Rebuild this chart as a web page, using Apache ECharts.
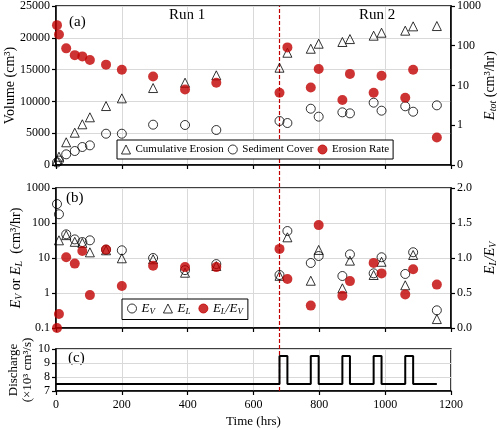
<!DOCTYPE html>
<html>
<head>
<meta charset="utf-8">
<script src="https://cdn.jsdelivr.net/npm/echarts@6/dist/echarts.min.js"></script>
<style>html,body{margin:0;padding:0;background:#fff}#c{width:500px;height:430px}</style>
</head>
<body>
<div id="c"></div>
<script>
// ---- data ----
const times = [3, 9, 31, 57, 80, 103, 152, 200, 295, 392, 487, 679, 703, 774, 798, 870, 893, 965, 989, 1061, 1085, 1157];
const cumErosion = [700, 1300, 3570, 5080, 6400, 7500, 9270, 10480, 12100, 12940, 14100, 15300, 17650, 18280, 19070, 19340, 19800, 20330, 20800, 21120, 21800, 21850];
const sedimentCover = [400, 700, 1680, 2200, 2830, 3090, 4920, 4920, 6340, 6290, 5500, 6920, 6600, 8850, 7600, 8280, 8120, 9800, 8540, 9230, 8380, 9380];
const erosionRate = [330, 191, 86, 58, 54, 44, 33.5, 25, 16.8, 7.9, 11.7, 6.6, 91, 8.9, 26, 4.3, 19.6, 6.6, 17.5, 4.9, 25, 0.49];
const EV = [348, 178, 47.5, 34, 28.6, 32, 17.3, 16.6, 10, 4.5, 6.7, 3.27, 59, 7.2, 11.4, 3.06, 12.7, 3.65, 10.5, 3.5, 14.6, 0.32];
const EL = [null, 32, 45, 29, 27, 14.5, 16.6, 9.8, 9.2, 3.8, 5.9, 3.1, 39, 2.24, 17, 1.36, 8.4, 3.27, 7.8, 1.66, 12.2, 0.18];
const ratio = [0.0, 0.2, 1.01, 0.92, 1.1, 0.47, 1.12, 0.6, 0.89, 0.87, 0.87, 1.13, 0.70, 0.32, 1.47, 0.46, 0.67, 0.93, 0.78, 0.48, 0.84, 0.62];
const dischargeT = [0, 679, 679, 703, 703, 774, 774, 798, 798, 870, 870, 893, 893, 965, 965, 989, 989, 1061, 1061, 1085, 1085, 1157];
const dischargeQ = [7.5, 7.5, 9.5, 9.5, 7.5, 7.5, 9.5, 9.5, 7.5, 7.5, 9.5, 9.5, 7.5, 7.5, 9.5, 9.5, 7.5, 7.5, 9.5, 9.5, 7.5, 7.5];
const run2Start = 679;
const volumeTicks = [0, 25000, 5000];
const timeTicks = [0, 1200, 200];

// ---- helpers ----
const FF = 'Liberation Serif, Times New Roman, serif';
const RED = '#c00000';
const GRIDC = '#d9d9d9';
const pair = (xs, ys) => xs.map((x, i) => [x, ys[i]]);
const richBase = {
  n: {fontFamily: FF, fontSize: 14, color: '#000', lineHeight: 16},
  i: {fontFamily: FF, fontSize: 14, fontStyle: 'italic', color: '#000', lineHeight: 16},
  s: {fontFamily: FF, fontSize: 10, fontStyle: 'italic', color: '#000', verticalAlign: 'bottom', lineHeight: 10}
};
const richLeg = {
  i: {fontFamily: FF, fontSize: 13, fontStyle: 'italic', color: '#000', lineHeight: 16},
  s: {fontFamily: FF, fontSize: 9, fontStyle: 'italic', color: '#000', verticalAlign: 'bottom', lineHeight: 9}
};
const openStyle = {color: 'rgba(0,0,0,0)', borderColor: '#000', borderWidth: 1};
const redStyle = {color: RED, borderColor: RED, borderWidth: 0};
const plain = v => String(Math.round(v));

function xAx(grid, showLabel) {
  return {
    type: 'value', gridIndex: grid, min: timeTicks[0], max: timeTicks[1], interval: timeTicks[2],
    axisLine: {show: true, onZero: false, lineStyle: {color: '#000', width: 1.5}},
    axisTick: {show: true, length: 4, lineStyle: {color: '#000', width: 1.2}},
    axisLabel: {show: showLabel, color: '#000', fontFamily: FF, fontSize: 12, margin: 8, formatter: plain},
    splitLine: {show: true, lineStyle: {color: GRIDC, width: 1}},
    name: showLabel ? 'Time (hrs)' : '', nameLocation: 'middle', nameGap: 24, nameMoveOverlap: false,
    nameTextStyle: {color: '#000', fontFamily: FF, fontSize: 13}
  };
}
function yBase(grid, pos) {
  return {
    gridIndex: grid, position: pos,
    axisLine: {show: true, lineStyle: {color: '#000', width: 1.5}},
    axisTick: {show: true, length: 4, lineStyle: {color: '#000', width: 1.2}},
    axisLabel: {color: '#000', fontFamily: FF, fontSize: 12, margin: 6, formatter: plain},
    nameLocation: 'middle', nameRotate: 90, nameMoveOverlap: false,
    nameTextStyle: {color: '#000', fontFamily: FF, fontSize: 14, rich: richBase}
  };
}

const yAxes = [
  Object.assign(yBase(0, 'left'), {
    type: 'value', min: volumeTicks[0], max: volumeTicks[1], interval: volumeTicks[2],
    splitLine: {show: true, lineStyle: {color: GRIDC}},
    name: 'Volume (cm³)', nameGap: 39
  }),
  Object.assign(yBase(0, 'right'), {
    type: 'log', logBase: 10, min: 0.1, max: 1000,
    splitLine: {show: false},
    axisLabel: {color: '#000', fontFamily: FF, fontSize: 12, margin: 6,
      formatter: v => v < 0.5 ? '0' : String(Math.round(v))},
    name: '{i|E}{s|tot}{n| (cm³/hr)}', nameGap: 31
  }),
  Object.assign(yBase(1, 'left'), {
    type: 'log', logBase: 10, min: 0.1, max: 1000,
    splitLine: {show: true, lineStyle: {color: GRIDC}},
    axisLabel: {color: '#000', fontFamily: FF, fontSize: 12, margin: 6,
      formatter: v => v < 0.5 ? '0.1' : String(Math.round(v))},
    name: '{i|E}{s|V}{n| or }{i|E}{s|L}{n|  (cm³/hr)}', nameGap: 32
  }),
  Object.assign(yBase(1, 'right'), {
    type: 'value', min: 0, max: 2, interval: 0.5,
    splitLine: {show: false},
    axisLabel: {color: '#000', fontFamily: FF, fontSize: 12, margin: 6, formatter: v => v.toFixed(1)},
    name: '{i|E}{s|L}{i|/E}{s|V}', nameGap: 31
  }),
  Object.assign(yBase(2, 'left'), {
    type: 'value', min: 7, max: 10, interval: 1,
    splitLine: {show: true, lineStyle: {color: GRIDC}},
    name: 'Discharge\n(×10³ cm³/s)', nameGap: 21,
    nameTextStyle: {color: '#000', fontFamily: FF, fontSize: 13, lineHeight: 14}
  }),
  {gridIndex: 3, type: 'value', min: 0, max: 1, show: false}
];

const gridBase = {left: 56, right: 49, show: true, borderColor: '#000', borderWidth: 1.5,
  backgroundColor: 'transparent', outerBoundsMode: 'none', containLabel: false};

const option = {
  animation: false,
  backgroundColor: '#fff',
  grid: [
    Object.assign({}, gridBase, {top: 6, height: 159}),
    Object.assign({}, gridBase, {top: 188, height: 140}),
    Object.assign({}, gridBase, {top: 349, height: 42}),
    {left: 56, right: 49, top: 6, bottom: 39, show: false, outerBoundsMode: 'none', containLabel: false}
  ],
  xAxis: [xAx(0, false), xAx(1, false), xAx(2, true), {gridIndex: 3, type: 'value', min: timeTicks[0], max: timeTicks[1], show: false}],
  yAxis: yAxes,
  legend: [
    {
      left: 117, top: 140, padding: [4, 4], itemGap: 4, itemWidth: 9, itemHeight: 9,
      borderColor: '#000', borderWidth: 1, backgroundColor: '#fff', selectedMode: false,
      itemStyle: {borderWidth: 1},
      textStyle: {color: '#000', fontFamily: FF, fontSize: 11},
      data: ['Cumulative Erosion', 'Sediment Cover', 'Erosion Rate']
    },
    {
      left: 122, top: 299, padding: [3, 5], itemGap: 8, itemWidth: 9, itemHeight: 9,
      borderColor: '#000', borderWidth: 1, backgroundColor: '#fff', selectedMode: false,
      itemStyle: {borderWidth: 1},
      textStyle: {color: '#000', fontFamily: FF, fontSize: 13, rich: richLeg},
      formatter: name => ({EV: '{i|E}{s|V}', EL: '{i|E}{s|L}', ratio: '{i|E}{s|L}{i|/E}{s|V}'})[name],
      data: ['EV', 'EL', 'ratio']
    }
  ],
  graphic: [
    {type: 'text', left: 69, top: 15, style: {text: '(a)', font: '15px ' + FF, fill: '#000'}},
    {type: 'text', left: 169, top: 8, style: {text: 'Run 1', font: '15px ' + FF, fill: '#000'}},
    {type: 'text', left: 359, top: 8, style: {text: 'Run 2', font: '15px ' + FF, fill: '#000'}},
    {type: 'text', left: 66, top: 191, style: {text: '(b)', font: '15px ' + FF, fill: '#000'}},
    {type: 'text', left: 68, top: 351, style: {text: '(c)', font: '15px ' + FF, fill: '#000'}}
  ],
  series: [
    {name: 'run2', type: 'line', xAxisIndex: 3, yAxisIndex: 5, data: [[run2Start, 0], [run2Start, 1]],
      symbol: 'none', silent: true, z: 1, lineStyle: {color: RED, width: 1.2, type: [4, 2]}},
    {name: 'Cumulative Erosion', type: 'scatter', xAxisIndex: 0, yAxisIndex: 0, symbol: 'triangle', symbolSize: 9,
      itemStyle: openStyle, data: pair(times, cumErosion), clip: false, z: 3},
    {name: 'Sediment Cover', type: 'scatter', xAxisIndex: 0, yAxisIndex: 0, symbol: 'circle', symbolSize: 9,
      itemStyle: openStyle, data: pair(times, sedimentCover), clip: false, z: 3},
    {name: 'Erosion Rate', type: 'scatter', xAxisIndex: 0, yAxisIndex: 1, symbol: 'circle', symbolSize: 10,
      itemStyle: redStyle, data: pair(times, erosionRate), clip: false, z: 4},
    {name: 'EV', type: 'scatter', xAxisIndex: 1, yAxisIndex: 2, symbol: 'circle', symbolSize: 9,
      itemStyle: openStyle, data: pair(times, EV).filter(d => d[1] != null), clip: false, z: 3},
    {name: 'EL', type: 'scatter', xAxisIndex: 1, yAxisIndex: 2, symbol: 'triangle', symbolSize: 9,
      itemStyle: openStyle, data: pair(times, EL).filter(d => d[1] != null), clip: false, z: 3},
    {name: 'ratio', type: 'scatter', xAxisIndex: 1, yAxisIndex: 3, symbol: 'circle', symbolSize: 10,
      itemStyle: redStyle, data: pair(times, ratio), clip: false, z: 4},
    {name: 'Discharge', type: 'line', xAxisIndex: 2, yAxisIndex: 4, data: pair(dischargeT, dischargeQ),
      symbol: 'none', z: 3, lineStyle: {color: '#000', width: 2}}
  ]
};
const chart = echarts.init(document.getElementById('c'), null, {renderer: 'canvas'});
chart.setOption(option);
</script>
</body>
</html>
